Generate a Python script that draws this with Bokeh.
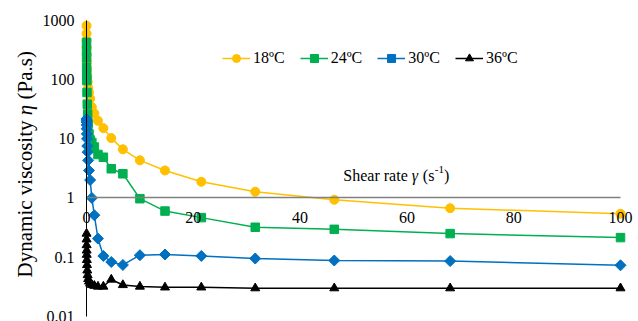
import math
from bokeh.plotting import figure
from bokeh.models import FixedTicker, Legend, LegendItem, Label, CustomJSTickFormatter
from bokeh.embed import file_html
from bokeh.resources import INLINE

# ---- data ----
shear_rate = [0.01, 0.0147, 0.0215, 0.0316, 0.0464, 0.0681, 0.1, 0.147, 0.215, 0.316,
              0.464, 0.681, 1, 1.47, 2.15, 3.16, 4.64, 6.81, 10, 14.7, 21.5, 31.6, 46.4, 68.1, 100]
visc_18 = [800, 590, 450, 340, 260, 200, 150, 115, 90, 72, 60, 47, 34, 26.5, 20, 15, 10.2,
           6.6, 4.3, 2.9, 1.87, 1.27, 0.93, 0.67, 0.54]
visc_24 = [420, 310, 230, 160, 118, 95, 60, 38, 26, 18, 12, 9.5, 8.6, 7.2, 5.4, 4.85, 3.1,
           2.55, 0.97, 0.6, 0.465, 0.32, 0.295, 0.25, 0.214]
visc_30 = [21.5, 20.5, 19, 17, 14.6, 12, 9.9, 7.5, 5.9, 4.3, 2.9, 2.0, 1.0, 0.51, 0.206,
           0.105, 0.083, 0.074, 0.108, 0.111, 0.105, 0.095, 0.088, 0.086, 0.073]
visc_36 = [0.25, 0.2, 0.16, 0.13, 0.11, 0.09, 0.074, 0.06, 0.05, 0.043, 0.039, 0.036, 0.034,
           0.033, 0.032, 0.032, 0.042, 0.034, 0.032, 0.031, 0.031, 0.030, 0.030, 0.030, 0.030]
series_labels = ["18ºC", "24ºC", "30ºC", "36ºC"]
x_ticks = [0, 20, 40, 60, 80, 100]
y_ticks = [0.01, 0.1, 1, 10, 100, 1000]

FONT = "Liberation Serif"
W, H = 638, 321

# layout in pixels: x=0 at 86px, x=100 at 620px; y=1000 at 19.5px, y=0.01 at 316px
px_per_x = (620 - 86) / 100.0
px_per_dec = (316 - 19.5) / 5.0
x_start = 0 - 86 / px_per_x
x_end = 100 + (W - 620) / px_per_x
y_end = 10 ** (3 + 19.5 / px_per_dec)
y_start = 10 ** (-2 - (H - 316) / px_per_dec)

p = figure(width=W, height=H, output_backend="svg", toolbar_location=None,
           y_axis_type="log", x_range=(x_start, x_end), y_range=(y_start, y_end),
           min_border_left=0, min_border_right=0, min_border_top=0, min_border_bottom=0)
p.outline_line_color = None
p.xgrid.visible = False
p.ygrid.visible = False
p.background_fill_color = "white"
p.border_fill_color = "white"

# x axis crossing at y = 1
xa = p.xaxis[0]
xa.fixed_location = 1
xa.bounds = (0, 100)
xa.ticker = FixedTicker(ticks=x_ticks)
xa.axis_line_color = "#808080"
xa.axis_line_width = 1.5
xa.major_tick_line_color = None
xa.minor_tick_line_color = None
xa.major_tick_out = 0
xa.major_tick_in = 0
xa.major_label_standoff = 14
xa.major_label_text_font = FONT
xa.major_label_text_font_size = "16px"
xa.major_label_text_color = "black"

# y axis at x = 0
ya = p.yaxis[0]
ya.fixed_location = 0
ya.bounds = (0.01, 1000)
ya.ticker = FixedTicker(ticks=y_ticks)
ya.formatter = CustomJSTickFormatter(code="return String(tick);")
ya.axis_line_color = "black"
ya.axis_line_width = 1
ya.major_tick_line_color = None
ya.minor_tick_line_color = None
ya.major_tick_out = 0
ya.major_tick_in = 0
ya.major_label_standoff = 12
ya.major_label_text_font = FONT
ya.major_label_text_font_size = "16px"
ya.major_label_text_color = "black"

# y axis title built from pieces so that eta is italic (anchored at x=0, y=1)
ytitle_parts = [("Dynamic viscosity", -79.5, "normal"),
                ("η", 82.6, "italic"),
                ("(Pa.s)", 98.4, "normal")]
for txt, dy, st in ytitle_parts:
    p.add_layout(Label(x=0, y=1, x_offset=-62, y_offset=dy, angle=math.pi / 2,
                       text=txt, text_font=FONT, text_font_size="21px", text_font_style=st,
                       text_color="black", text_align="left", text_baseline="middle"))

colors = ["#FFC000", "#00B050", "#0070C0", "#000000"]
markers = ["circle", "square", "square", "triangle"]
sizes = [9, 8.5, 7.8, 9]
angles = [0, 0, math.pi / 4, 0]
series = [visc_18, visc_24, visc_30, visc_36]

items = []
for lab, ys, c, m, s, a in zip(series_labels, series, colors, markers, sizes, angles):
    r1 = p.line(shear_rate, ys, line_color=c, line_width=1.5)
    r2 = p.scatter(shear_rate, ys, marker=m, size=s, angle=a, fill_color=c, line_color=c)
    items.append(LegendItem(label=lab, renderers=[r1, r2]))

legend = Legend(items=items, orientation="horizontal", location=(222, H - 68),
                padding=0, margin=0, spacing=15, label_standoff=3,
                glyph_width=28, glyph_height=20, label_height=20,
                label_text_font=FONT, label_text_font_size="16px",
                label_text_color="black", border_line_color=None,
                background_fill_alpha=0)
p.add_layout(legend)

# x axis title above the axis line (pieces: text, x offset px, raise px, size, style)
title_parts = [("Shear rate", 0, 0, "16px", "normal"),
               ("γ", 68.4, 0, "16px", "italic"),
               ("(s", 79.5, 0, "16px", "normal"),
               ("-1", 91.5, 6, "11px", "normal"),
               (")", 100.7, 0, "16px", "normal")]
for txt, dx, dy, fs, st in title_parts:
    p.add_layout(Label(x=48.1, y=1, x_offset=dx, y_offset=22 + dy, text=txt,
                       text_font=FONT, text_font_size=fs, text_font_style=st,
                       text_color="black", text_baseline="alphabetic"))

open("out.html", "w").write(file_html(p, INLINE))
